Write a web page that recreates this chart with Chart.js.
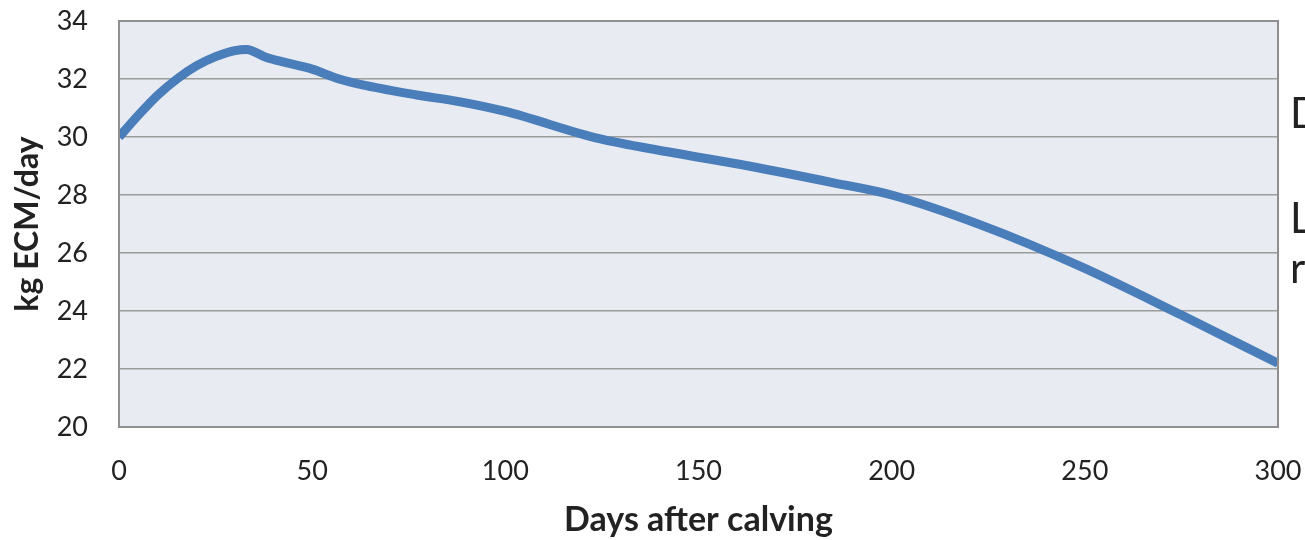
<!DOCTYPE html>
<html>
<head>
<meta charset="utf-8">
<script src="https://cdn.jsdelivr.net/npm/chart.js@4/dist/chart.umd.min.js"></script>
<style>
  html, body { margin: 0; padding: 0; background: #ffffff; }
  #wrap { width: 1305px; height: 540px; }
</style>
</head>
<body>
<div id="wrap"><canvas id="c" width="1305" height="540"></canvas></div>
<script>
// ---- data ----
const days = [0, 5, 10, 15, 20, 25, 30, 33, 38, 43, 50, 57, 64, 77, 88, 100, 124, 142, 163, 185, 200, 223, 249, 275, 300];
const ecm  = [30.0, 30.75, 31.44, 32.0, 32.45, 32.77, 32.98, 33.02, 32.75, 32.57, 32.34, 32.0, 31.77, 31.45, 31.22, 30.88, 29.95, 29.49, 29.0, 28.42, 28.0, 26.97, 25.53, 23.86, 22.2];
const xTicks = [0, 50, 100, 150, 200, 250, 300];
const yTicks = [20, 22, 24, 26, 28, 30, 32, 34];
const xTitle = "Days after calving";
const yTitle = "kg ECM/day";
const sideTexts = ["D", "L", "r"];

const points = days.map((d, i) => ({ x: d, y: ecm[i] }));

const plotFrame = {
  id: 'plotFrame',
  beforeDraw(chart) {
    const { ctx, chartArea: a } = chart;
    ctx.save();
    ctx.fillStyle = '#e9ebf3';
    ctx.fillRect(a.left, a.top, a.right - a.left, a.bottom - a.top);
    ctx.restore();
  },
  afterDatasetsDraw(chart) {
    const { ctx, chartArea: a } = chart;
    ctx.save();
    ctx.strokeStyle = '#8f8f8f';
    ctx.lineWidth = 2;
    ctx.strokeRect(a.left, a.top, a.right - a.left, a.bottom - a.top);
    ctx.restore();
  },
  afterDraw(chart) {
    const { ctx, chartArea: a, scales } = chart;
    ctx.save();
    ctx.fillStyle = '#222222';
    ctx.font = '42px Lato';
    ctx.textAlign = 'left';
    ctx.textBaseline = 'alphabetic';
    const x0 = a.right + 12;
    ctx.fillText(sideTexts[0], x0, scales.y.getPixelForValue(30.3));
    ctx.fillText(sideTexts[1], x0, scales.y.getPixelForValue(26.7));
    ctx.fillText(sideTexts[2], x0, scales.y.getPixelForValue(24.95));
    ctx.restore();
  }
};

new Chart(document.getElementById('c'), {
  type: 'line',
  data: {
    datasets: [{
      data: points,
      borderColor: '#4a7ebb',
      borderWidth: 9,
      pointRadius: 0,
      fill: false,
      cubicInterpolationMode: 'monotone',
      borderCapStyle: 'butt',
      borderJoinStyle: 'round'
    }]
  },
  options: {
    responsive: false,
    animation: false,
    layout: { autoPadding: false, padding: { top: 21, right: 27, left: 0, bottom: 0 } },
    plugins: { legend: { display: false }, tooltip: { enabled: false } },
    scales: {
      x: {
        type: 'linear',
        min: 0, max: 300,
        afterBuildTicks(scale) { scale.ticks = xTicks.map(v => ({ value: v })); },
        afterFit(scale) { scale.height = 113; scale.paddingLeft = 0; scale.paddingRight = 0; },
        grid: { display: false, drawTicks: false },
        border: { display: false },
        ticks: { color: '#222222', font: { family: 'Lato', size: 27 }, padding: 28, maxRotation: 0 },
        title: { display: true, text: xTitle, color: '#222222', font: { family: 'Lato', size: 34, weight: 'bold' }, padding: { top: 0, bottom: 0 } }
      },
      y: {
        min: 20, max: 34,
        afterBuildTicks(scale) { scale.ticks = yTicks.map(v => ({ value: v })); },
        afterFit(scale) { scale.width = 119; scale.paddingTop = 0; scale.paddingBottom = 0; },
        grid: { color: '#9c9c9c', lineWidth: 1.5, drawTicks: false },
        border: { display: false },
        ticks: { color: '#222222', font: { family: 'Lato', size: 27 }, padding: 31 },
        title: { display: true, text: yTitle, color: '#222222', font: { family: 'Lato', size: 32, weight: 'bold' }, padding: { top: 8, bottom: 0 } }
      }
    }
  },
  plugins: [plotFrame]
});
</script>
</body>
</html>
